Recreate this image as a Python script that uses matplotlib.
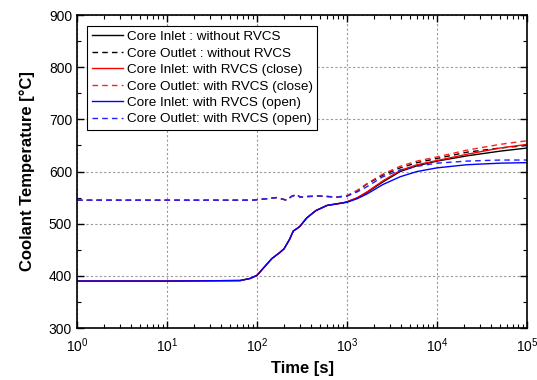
import numpy as np
import matplotlib
matplotlib.use("Agg")
import matplotlib.pyplot as plt

plt.rcParams['font.family'] = ['Liberation Sans', 'DejaVu Sans']
plt.rcParams['mathtext.default'] = 'regular'

# time points [s]
time_in = [1, 10, 65, 84, 100, 146, 180, 200, 230, 253, 280, 300, 357, 450, 600, 910,
           1000, 1300, 1670, 2500, 3900, 6000, 10000, 21500, 50000, 100000]
inlet_common = [390, 390, 391, 395, 401, 433, 445, 452, 470, 486, 491, 495, 511, 525, 535, 540]
inlet_no_rvcs = inlet_common + [542, 549, 560, 580, 600, 611, 620, 630, 639, 645]
inlet_close = inlet_common + [542, 550, 561, 582, 602, 613, 621, 633, 645, 652]
inlet_open = inlet_common + [541, 548, 557, 575, 590, 600, 607, 613, 616, 617]

time_out = [1, 10, 90, 100, 130, 165, 214, 240, 277, 300, 357, 500, 770,
            1000, 1300, 1670, 2500, 3900, 6000, 10000, 21500, 50000, 100000]
outlet_common = [545, 545, 545, 546, 548, 550, 545, 552, 556, 551, 552, 553, 551]
outlet_no_rvcs = outlet_common + [553, 563, 576, 593, 607, 617, 625, 637, 645, 650]
outlet_close = outlet_common + [554, 564, 577, 595, 610, 620, 628, 641, 652, 659]
outlet_open = outlet_common + [553, 561, 571, 590, 603, 610, 616, 620, 622, 622]

fig = plt.figure(figsize=(5.37, 3.8), dpi=100)
ax = fig.add_axes([0.1434, 0.1368, 0.8380, 0.8237])

dash = (0, (4, 3))
ax.plot(time_in, inlet_no_rvcs, color='black', lw=1, label='Core Inlet : without RVCS')
ax.plot(time_out, outlet_no_rvcs, color='black', lw=1, ls=dash, label='Core Outlet : without RVCS')
ax.plot(time_in, inlet_close, color='red', lw=1, label='Core Inlet: with RVCS (close)')
ax.plot(time_out, outlet_close, color='#ff2020', lw=1, ls=dash, label='Core Outlet: with RVCS (close)')
ax.plot(time_in, inlet_open, color='blue', lw=1, label='Core Inlet: with RVCS (open)')
ax.plot(time_out, outlet_open, color='#2020ff', lw=1, ls=dash, label='Core Outlet: with RVCS (open)')

ax.set_xscale('log')
ax.set_xlim(1, 1e5)
ax.set_ylim(300, 900)
ax.set_yticks(np.arange(300, 901, 100))
ax.set_yticks(np.arange(350, 900, 100), minor=True)

ax.tick_params(which='both', direction='in', top=True, right=True, labelsize=10)
ax.tick_params(which='major', length=5, width=1)
ax.tick_params(which='minor', length=3, width=0.8)
ax.tick_params(axis='x', pad=6)
for s in ax.spines.values():
    s.set_linewidth(1.2)

ax.grid(True, which='major', color='#999999', ls=(0, (2, 2)), lw=0.8)

ax.set_xlabel('Time [s]', fontsize=12, fontweight='bold', labelpad=4)
ax.set_ylabel('Coolant Temperature [°C]', fontsize=12, fontweight='bold', labelpad=10)

leg = ax.legend(loc='upper left', bbox_to_anchor=(0.022, 0.965), fontsize=9.7,
                frameon=True, fancybox=False, edgecolor='black', framealpha=1,
                handlelength=2.3, borderpad=0.35, labelspacing=0.3, handletextpad=0.3,
                borderaxespad=0)
leg.get_frame().set_linewidth(0.8)

fig.savefig('out.png', dpi=100)
